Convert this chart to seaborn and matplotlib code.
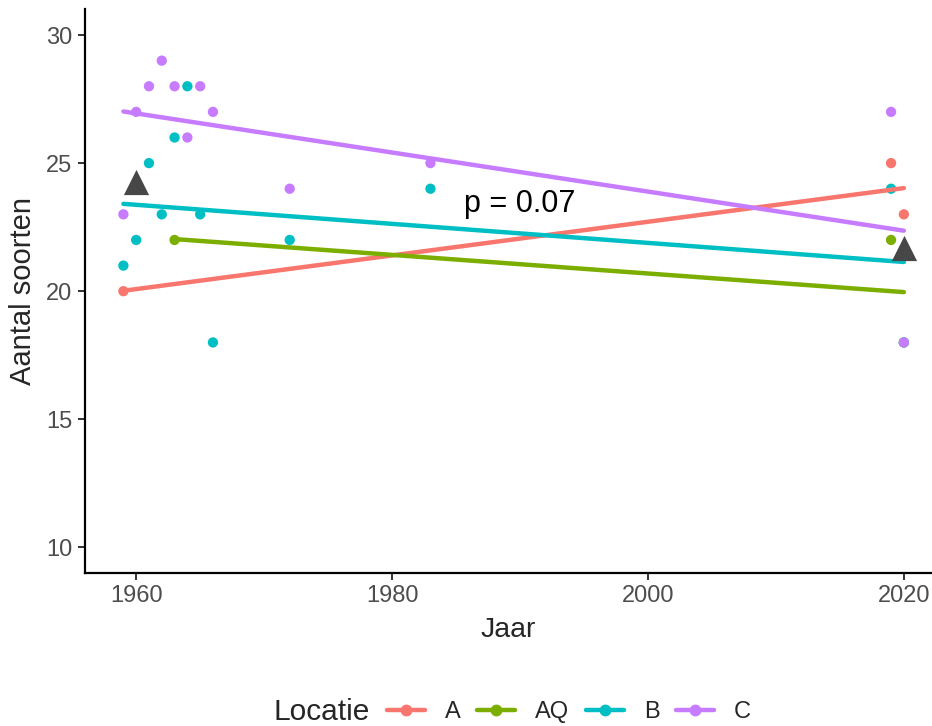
import pandas as pd
import matplotlib
matplotlib.use("Agg")
import matplotlib.pyplot as plt
import seaborn as sns
from matplotlib.lines import Line2D

# Gegevens per locatie (jaar, aantal soorten)
jaar_A = [1959, 2019, 2020]
soorten_A = [20, 25, 23]

jaar_AQ = [1963, 2019, 2020]
soorten_AQ = [22, 22, 18]

jaar_B = [1959, 1960, 1961, 1962, 1963, 1964, 1965, 1966, 1972, 1983, 2019, 2020]
soorten_B = [21, 22, 25, 23, 26, 28, 23, 18, 22, 24, 24, 18]

jaar_C = [1959, 1960, 1961, 1962, 1963, 1964, 1965, 1966, 1972, 1983, 2019, 2020]
soorten_C = [23, 27, 28, 29, 28, 26, 28, 27, 24, 25, 27, 18]

# Gemiddelden (driehoeken)
jaar_gem = [1960, 2020]
soorten_gem = [24.25, 21.7]

locaties = ["A", "AQ", "B", "C"]
kleuren = ["#F8766D", "#7CAE00", "#00BFC4", "#C77CFF"]
p_tekst = "p = 0.07"

df = pd.concat([
    pd.DataFrame({"Jaar": jaar_A, "Soorten": soorten_A, "Locatie": "A"}),
    pd.DataFrame({"Jaar": jaar_AQ, "Soorten": soorten_AQ, "Locatie": "AQ"}),
    pd.DataFrame({"Jaar": jaar_B, "Soorten": soorten_B, "Locatie": "B"}),
    pd.DataFrame({"Jaar": jaar_C, "Soorten": soorten_C, "Locatie": "C"}),
], ignore_index=True)

sns.set_theme(style="ticks")
plt.rcParams["font.family"] = ["Liberation Sans", "DejaVu Sans"]

fig = plt.figure(figsize=(9.32, 7.26), dpi=100)
ax = fig.add_axes([85 / 932, 153 / 726, 1 - 85 / 932, (573 - 9.4) / 726])

palet = dict(zip(locaties, kleuren))
sns.scatterplot(data=df, x="Jaar", y="Soorten", hue="Locatie", palette=palet,
                s=55, linewidth=0, ax=ax, legend=False, zorder=2)

for loc in locaties:
    sub = df[df["Locatie"] == loc]
    sns.regplot(data=sub, x="Jaar", y="Soorten", scatter=False, ci=None,
                color=palet[loc], line_kws={"linewidth": 3.2, "zorder": 3}, ax=ax)

ax.scatter(jaar_gem, soorten_gem, marker="^", s=330, color="#474747", zorder=4, linewidth=0)

ax.text(1990, 23.4, p_tekst, fontsize=22, ha="center", va="center", color="black")

ax.set_xlim(1956.0, 2022.2)
ax.set_ylim(9, 31)
ax.set_xticks([1960, 1980, 2000, 2020])
ax.set_yticks([10, 15, 20, 25, 30])
ax.set_xlabel("Jaar", fontsize=20.5, labelpad=7)
ax.set_ylabel("Aantal soorten", fontsize=21, labelpad=7)
ax.tick_params(axis="both", labelsize=17, labelcolor="#4D4D4D", color="#333333",
               length=5, width=1.4, pad=4)
sns.despine(ax=ax)
for s in ["left", "bottom"]:
    ax.spines[s].set_color("black")
    ax.spines[s].set_linewidth(1.6)

# Legenda onderaan
fig.text(273 / 932, 14 / 726, "Locatie", fontsize=21.5, ha="left", va="center")
handles = [Line2D([0], [0], color=c, lw=3.2, marker="o", markersize=7.5) for c in kleuren]
fig.legend(handles, locaties, loc="center", bbox_to_anchor=(569 / 932, 14 / 726),
           ncol=4, frameon=False, fontsize=17, handlelength=1.6, handletextpad=0.85,
           columnspacing=0.7)

fig.savefig("out.png", dpi=100)
